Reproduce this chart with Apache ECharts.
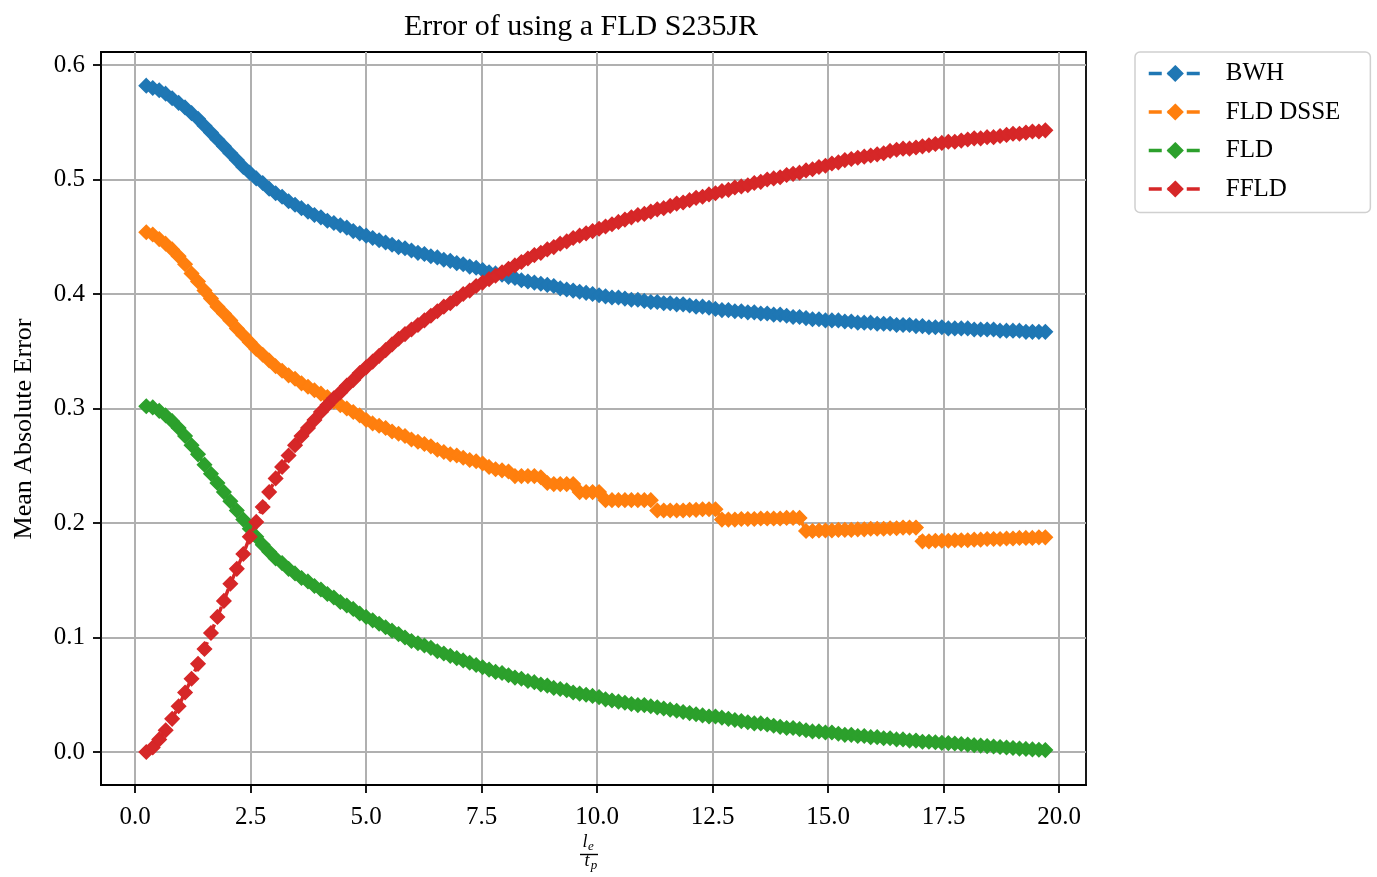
<!DOCTYPE html>
<html>
<head>
<meta charset="utf-8">
<script src="https://cdn.jsdelivr.net/npm/echarts@6.0.0/dist/echarts.min.js"></script>
<style>html,body{margin:0;padding:0;background:#fff;}#chart{width:1377px;height:877px;}</style>
</head>
<body>
<div id="chart"></div>
<script>
const xs = [0.24,0.38,0.52,0.66,0.80,0.94,1.08,1.22,1.36,1.50,
1.64,1.78,1.92,2.06,2.20,2.34,2.48,2.62,2.76,2.90,
3.04,3.18,3.32,3.46,3.60,3.74,3.88,4.02,4.16,4.30,
4.44,4.58,4.72,4.86,5.00,5.14,5.28,5.42,5.56,5.70,
5.84,5.98,6.12,6.26,6.40,6.54,6.68,6.82,6.96,7.10,
7.24,7.38,7.52,7.66,7.80,7.94,8.08,8.22,8.36,8.50,
8.64,8.78,8.92,9.06,9.20,9.34,9.48,9.62,9.76,9.90,
10.04,10.18,10.32,10.46,10.60,10.74,10.88,11.02,11.16,11.30,
11.44,11.58,11.72,11.86,12.00,12.14,12.28,12.42,12.56,12.70,
12.84,12.98,13.12,13.26,13.40,13.54,13.68,13.82,13.96,14.10,
14.24,14.38,14.52,14.66,14.80,14.94,15.08,15.22,15.36,15.50,
15.64,15.78,15.92,16.06,16.20,16.34,16.48,16.62,16.76,16.90,
17.04,17.18,17.32,17.46,17.60,17.74,17.88,18.02,18.16,18.30,
18.44,18.58,18.72,18.86,19.00,19.14,19.28,19.42,19.56,19.70];

const bwh = [.582,.580,.578,.575,.571,.567,.563,.558,.553,.547,
.541,.535,.529,.523,.517,.511,.506,.501,.497,.492,
.488,.485,.481,.478,.475,.472,.469,.467,.464,.462,
.460,.458,.455,.453,.451,.449,.447,.445,.443,.441,
.440,.438,.436,.435,.433,.432,.430,.429,.427,.426,
.424,.423,.421,.419,.418,.417,.415,.414,.412,.411,
.410,.409,.408,.407,.405,.404,.403,.402,.401,.400,
.399,.398,.397,.397,.396,.395,.395,.394,.393,.393,
.392,.392,.391,.391,.390,.389,.389,.388,.387,.386,
.386,.385,.385,.384,.384,.383,.383,.382,.382,.381,
.380,.380,.379,.378,.378,.377,.377,.377,.376,.376,
.375,.375,.375,.374,.374,.374,.373,.373,.373,.372,
.372,.371,.371,.371,.370,.370,.370,.370,.369,.369,
.369,.369,.368,.368,.368,.368,.367,.367,.367,.367];

const fldDsse = [.454,.452,.448,.444,.439,.433,.426,.418,.411,.403,
.396,.389,.383,.377,.370,.364,.358,.352,.347,.342,
.337,.333,.329,.326,.322,.319,.316,.313,.310,.306,
.303,.300,.297,.294,.290,.287,.285,.283,.280,.278,
.276,.273,.271,.269,.267,.264,.262,.260,.259,.257,
.255,.254,.252,.249,.247,.246,.245,.241,.241,.241,
.241,.240,.235,.234,.234,.234,.234,.227,.227,.227,
.227,.220,.220,.220,.220,.220,.220,.220,.220,.211,
.211,.211,.211,.211,.2115,.2115,.212,.212,.212,.203,
.203,.203,.2035,.2035,.2035,.204,.204,.204,.204,.2045,
.2045,.2045,.193,.193,.1935,.1935,.1935,.194,.194,.194,
.1945,.1945,.195,.195,.195,.1955,.1955,.196,.196,.196,
.184,.184,.1845,.1845,.1845,.185,.185,.185,.1855,.1855,
.186,.186,.186,.1865,.1865,.187,.187,.187,.1875,.1875];

const fld = [.302,.301,.298,.294,.289,.283,.276,.268,.260,.251,
.243,.235,.227,.219,.211,.203,.195,.188,.181,.175,
.169,.165,.160,.156,.152,.149,.145,.142,.138,.135,
.131,.128,.125,.121,.118,.115,.112,.109,.106,.103,
.100,.097,.095,.093,.091,.088,.086,.084,.082,.080,
.078,.076,.074,.072,.070,.069,.067,.065,.064,.062,
.061,.059,.058,.056,.055,.054,.052,.051,.050,.049,
.048,.046,.045,.044,.043,.042,.041,.041,.040,.039,
.038,.037,.036,.035,.034,.033,.032,.031,.031,.030,
.029,.028,.027,.026,.025,.025,.024,.023,.022,.021,
.021,.020,.019,.018,.018,.017,.017,.016,.015,.015,
.014,.014,.013,.013,.012,.012,.011,.011,.010,.010,
.009,.009,.0085,.008,.0078,.0074,.007,.0065,.006,.0056,
.0052,.0048,.0044,.004,.0035,.003,.0027,.0023,.002,.0017];

const ffld = [.000,.004,.011,.019,.029,.040,.052,.064,.077,.090,
.104,.118,.132,.147,.160,.173,.188,.201,.214,.227,
.239,.249,.259,.268,.276,.283,.290,.297,.303,.309,
.314,.320,.325,.331,.336,.341,.346,.351,.356,.361,
.365,.369,.373,.377,.381,.385,.389,.392,.396,.400,
.403,.407,.410,.413,.416,.419,.422,.425,.428,.431,
.434,.436,.439,.441,.444,.446,.449,.451,.453,.455,
.457,.459,.461,.463,.465,.467,.469,.470,.472,.474,
.475,.477,.479,.480,.482,.484,.485,.487,.488,.490,
.491,.493,.494,.495,.497,.498,.500,.501,.502,.504,
.505,.506,.508,.509,.511,.512,.514,.515,.517,.518,
.519,.520,.521,.522,.523,.525,.526,.527,.527,.528,
.529,.530,.531,.532,.533,.533,.534,.535,.536,.536,
.537,.537,.538,.539,.540,.540,.541,.542,.542,.543];

const xTicks = [0, 2.5, 5, 7.5, 10, 12.5, 15, 17.5, 20];
const yTicks = [0, 0.1, 0.2, 0.3, 0.4, 0.5, 0.6];
const seriesNames = ['BWH', 'FLD DSSE', 'FLD', 'FFLD'];
const seriesColors = ['#1f77b4', '#ff7f0e', '#2ca02c', '#d62728'];
const seriesValues = [bwh, fldDsse, fld, ffld];

const FONT = "'Liberation Serif', 'DejaVu Serif', serif";

const chart = echarts.init(document.getElementById('chart'), null, {renderer: 'canvas'});

const series = seriesNames.map((name, k) => ({
  name: name,
  type: 'line',
  data: xs.map((x, i) => [x, seriesValues[k][i]]),
  symbol: 'diamond',
  symbolSize: 14,
  showSymbol: true,
  showAllSymbol: true,
  sampling: null,
  color: seriesColors[k],
  itemStyle: {color: seriesColors[k], borderColor: seriesColors[k], borderWidth: 1.5},
  lineStyle: {color: seriesColors[k], width: 3.5, type: [13, 6]},
  emphasis: {disabled: true},
  animation: false,
  z: 2 + k
}));

const option = {
  animation: false,
  backgroundColor: '#ffffff',
  grid: {left: 101, top: 52, width: 985, height: 733, show: true, borderColor: '#000', borderWidth: 1.8, backgroundColor: 'transparent', containLabel: false},
  xAxis: {
    type: 'value', min: -0.74, max: 20.58,
    axisLine: {show: true, onZero: false, lineStyle: {color: '#000', width: 1.8}},
    axisTick: {show: true, customValues: xTicks, length: 8, inside: false, lineStyle: {color: '#000', width: 1.8}},
    axisLabel: {customValues: xTicks, formatter: v => v.toFixed(1), fontFamily: FONT, fontSize: 25, color: '#000', margin: 20},
    splitLine: {show: true, lineStyle: {color: '#b0b0b0', width: 2}}
  },
  yAxis: {
    type: 'value', min: -0.0288, max: 0.6114,
    axisLine: {show: true, onZero: false, lineStyle: {color: '#000', width: 1.8}},
    axisTick: {show: true, customValues: yTicks, length: 8, inside: false, lineStyle: {color: '#000', width: 1.8}},
    axisLabel: {customValues: yTicks, formatter: v => v.toFixed(1), fontFamily: FONT, fontSize: 25, color: '#000', margin: 16},
    splitLine: {show: true, lineStyle: {color: '#b0b0b0', width: 2}}
  },
  legend: {
    show: true, orient: 'vertical', left: 1135, top: 52,
    data: seriesNames,
    itemWidth: 53, itemHeight: 18, itemGap: 13.5,
    padding: [9, 30, 11, 12],
    backgroundColor: '#fff', borderColor: '#d0d0d0', borderWidth: 1.5, borderRadius: 5,
    lineStyle: {width: 3.5, type: [13, 6]},
    textStyle: {fontFamily: FONT, fontSize: 25, color: '#000', lineHeight: 25, padding: [0, 0, 0, 19]},
    selectedMode: false
  },
  graphic: [
    {type: 'text', x: 581, y: 27, style: {text: 'Error of using a FLD S235JR', font: "30px 'Liberation Serif', serif", fill: '#000', align: 'center', verticalAlign: 'middle'}},
    {type: 'text', x: 24, y: 429, rotation: Math.PI / 2, style: {text: 'Mean Absolute Error', font: "26px 'Liberation Serif', serif", fill: '#000', align: 'center', verticalAlign: 'middle'}},
    {type: 'text', x: 585, y: 842, style: {text: 'l', font: "italic 18px 'Liberation Serif', serif", fill: '#000', align: 'center', verticalAlign: 'middle'}},
    {type: 'text', x: 591, y: 847, style: {text: 'e', font: "italic 13px 'Liberation Serif', serif", fill: '#000', align: 'center', verticalAlign: 'middle'}},
    {type: 'text', x: 587, y: 861, style: {text: 't', font: "italic 18px 'Liberation Serif', serif", fill: '#000', align: 'center', verticalAlign: 'middle'}},
    {type: 'text', x: 594, y: 866, style: {text: 'p', font: "italic 13px 'Liberation Serif', serif", fill: '#000', align: 'center', verticalAlign: 'middle'}},
    {type: 'line', shape: {x1: 580, y1: 854.5, x2: 598, y2: 854.5}, style: {stroke: '#000', lineWidth: 1.4}}
  ],
  series: series
};

chart.setOption(option);
</script>
</body>
</html>
